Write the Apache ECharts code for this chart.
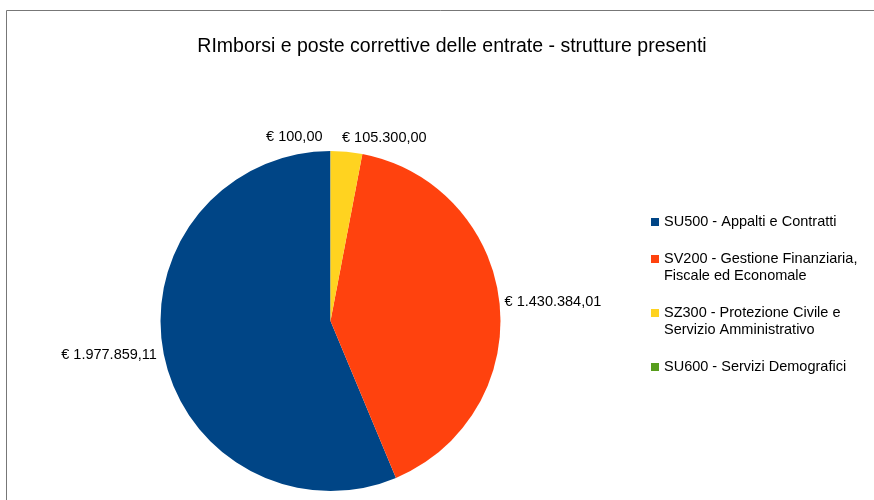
<!DOCTYPE html>
<html>
<head>
<meta charset="utf-8">
<script src="https://cdn.jsdelivr.net/npm/echarts@6/dist/echarts.min.js"></script>
<style>
html,body{margin:0;padding:0;background:#fff;}
#chart{width:874px;height:500px;}
</style>
</head>
<body>
<div id="chart"></div>
<script>
const categories = [
  'SU500 - Appalti e Contratti',
  'SV200 - Gestione Finanziaria, Fiscale ed Economale',
  'SZ300 - Protezione Civile e Servizio Amministrativo',
  'SU600 - Servizi Demografici'
];
const legendLines = [
  ['SU500 - Appalti e Contratti'],
  ['SV200 - Gestione Finanziaria,', 'Fiscale ed Economale'],
  ['SZ300 - Protezione Civile e', 'Servizio Amministrativo'],
  ['SU600 - Servizi Demografici']
];
const values = [1977859.11, 1430384.01, 105300.00, 100.00];
const colors = ['#004586', '#ff420e', '#ffd320', '#579d1c'];
const titleText = 'RImborsi e poste correttive delle entrate - strutture presenti';

function fmtEuro(v) {
  const parts = v.toFixed(2).split('.');
  const intPart = parts[0].replace(/\B(?=(\d{3})+(?!\d))/g, '.');
  return '€ ' + intPart + ',' + parts[1];
}

// legend text: multi-line items get a spacer line on top so the icon sits on the first line
function legendText(i) {
  const lines = legendLines[i].map(l => '{a|' + l + '}');
  if (i === 0) return lines.join('\n');
  if (lines.length > 1) return ['{s| }'].concat(lines).join('\n');
  return ['{s| }'].concat(lines, ['{s| }']).join('\n');
}

const labelAdjust = [
  {dx: -2, dy: 0},
  {dx: 0, dy: -1},
  {dx: -5, dy: -9},
  {dx: -8, dy: -9, align: 'right'}
];

const chart = echarts.init(document.getElementById('chart'));
chart.setOption({
  animation: false,
  color: colors,
  title: {
    text: titleText,
    left: 447,
    textAlign: 'center',
    top: 32,
    textStyle: {fontFamily: 'Liberation Sans', fontSize: 19.5, fontWeight: 'normal', color: '#000'}
  },
  legend: {
    orient: 'vertical',
    left: 651,
    top: 213.5,
    padding: 0,
    itemWidth: 8,
    itemHeight: 8,
    itemGap: 3,
    icon: 'rect',
    selectedMode: false,
    data: categories,
    formatter: name => legendText(categories.indexOf(name)),
    textStyle: {
      fontFamily: 'Liberation Sans', fontSize: 14.5, color: '#000', lineHeight: 17,
      rich: {
        a: {fontFamily: 'Liberation Sans', fontSize: 14.5, color: '#000', lineHeight: 17},
        s: {fontFamily: 'Liberation Sans', fontSize: 14.5, lineHeight: 17}
      }
    }
  },
  graphic: [
    {type: 'line', shape: {x1: 6.5, y1: 10.5, x2: 874, y2: 10.5}, style: {stroke: '#777', lineWidth: 1}},
    {type: 'line', shape: {x1: 6.5, y1: 10.5, x2: 6.5, y2: 500}, style: {stroke: '#777', lineWidth: 1}}
  ],
  series: [{
    type: 'pie',
    center: [330.5, 321],
    radius: [0, 170],
    startAngle: 90,
    clockwise: false,
    avoidLabelOverlap: false,
    silent: true,
    label: {
      show: true,
      position: 'outside',
      fontFamily: 'Liberation Sans',
      fontSize: 14.5,
      color: '#000',
      distanceToLabelLine: 0,
      formatter: p => fmtEuro(p.value)
    },
    labelLine: {show: false, length: 5, length2: 0},
    labelLayout: p => labelAdjust[p.dataIndex],
    itemStyle: {borderWidth: 0},
    data: categories.map((c, i) => ({name: c, value: values[i]}))
  }]
});
</script>
</body>
</html>
